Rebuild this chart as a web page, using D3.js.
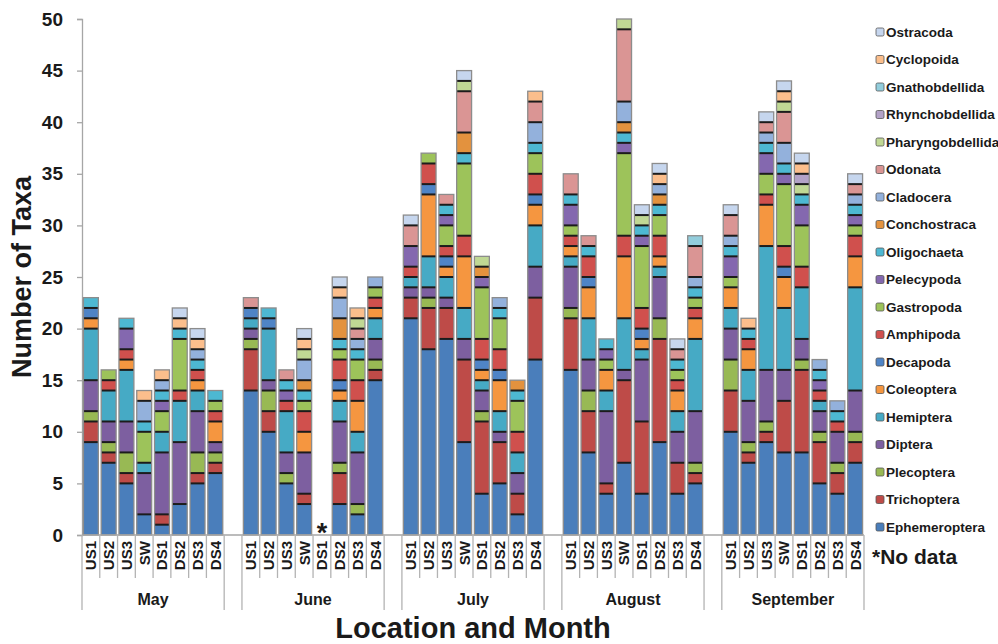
<!DOCTYPE html>
<html>
<head>
<meta charset="utf-8">
<script src="https://cdn.jsdelivr.net/npm/d3@7"></script>
<style>
  body { margin: 0; background: #fff; }
  text { font-family: Arial, "Liberation Sans", sans-serif; font-weight: bold; fill: #1a1a1a; }
</style>
</head>
<body>
<div id="chart"></div>
<script>
const months = ['May', 'June', 'July', 'August', 'September'];
const sites = ['US1', 'US2', 'US3', 'SW', 'DS1', 'DS2', 'DS3', 'DS4'];
const taxa = [
  'Ephemeroptera', 'Trichoptera', 'Plecoptera', 'Diptera', 'Hemiptera',
  'Coleoptera', 'Decapoda', 'Amphipoda', 'Gastropoda', 'Pelecypoda',
  'Oligochaeta', 'Conchostraca', 'Cladocera', 'Odonata', 'Pharyngobdellida',
  'Rhynchobdellida', 'Gnathobdellida', 'Cyclopoida', 'Ostracoda'
];
const colors = [
  '#4a7ebb', '#be4b48', '#98b954', '#7d5fa0', '#46aac5',
  '#f59640', '#4f84c6', '#d0504d', '#9dc35a', '#8468af',
  '#4db8d2', '#e3923e', '#93b1dc', '#da9594', '#c0d894',
  '#b3a2c7', '#92cddc', '#fbbe8c', '#c6d6ee'
];
const yTicks = [0, 5, 10, 15, 20, 25, 30, 35, 40, 45, 50];

// one value per bar: May US1..DS4, June, July, August, September (null = no data)
const ephemeroptera = [9, 7, 5, 2, 1, 3, 5, 6, 14, 10, 5, 3, null, 3, 2, 15,
  21, 18, 19, 9, 4, 5, 2, 17, 16, 8, 4, 7, 4, 9, 4, 5, 10, 7, 9, 8, 8, 5, 4, 7];
const trichoptera = [2, 1, 1, 0, 1, 0, 1, 1, 4, 2, 0, 1, null, 3, 0, 1,
  2, 4, 3, 8, 7, 4, 2, 6, 5, 4, 1, 8, 7, 10, 3, 1, 4, 1, 1, 5, 8, 4, 2, 2];
const plecoptera = [1, 1, 2, 0, 0, 0, 2, 1, 1, 2, 1, 0, null, 1, 1, 1,
  0, 1, 0, 0, 1, 0, 0, 0, 1, 2, 0, 0, 0, 2, 0, 1, 3, 1, 1, 0, 1, 1, 1, 1];
const diptera = [3, 2, 3, 4, 6, 6, 4, 1, 1, 1, 2, 4, null, 4, 5, 2,
  1, 1, 1, 2, 2, 1, 2, 3, 4, 3, 7, 1, 6, 4, 3, 5, 3, 4, 5, 3, 2, 2, 3, 4];
const hemiptera = [5, 3, 5, 1, 2, 4, 2, 0, 1, 5, 4, 0, null, 2, 2, 2,
  1, 3, 2, 3, 1, 2, 2, 4, 1, 4, 2, 5, 1, 1, 2, 7, 2, 3, 12, 6, 5, 1, 0, 10];
const coleoptera = [1, 0, 1, 0, 0, 0, 1, 2, 0, 0, 0, 2, null, 1, 3, 1,
  0, 6, 1, 5, 1, 3, 0, 2, 1, 3, 2, 6, 1, 1, 2, 2, 2, 2, 4, 3, 0, 0, 0, 3];
const decapoda = [1, 0, 0, 0, 0, 0, 0, 0, 1, 1, 0, 0, null, 1, 0, 0,
  0, 1, 1, 0, 1, 1, 0, 1, 0, 1, 0, 0, 1, 0, 0, 0, 0, 0, 0, 1, 0, 0, 0, 0];
const amphipoda = [0, 1, 1, 0, 0, 1, 1, 1, 0, 0, 1, 2, null, 2, 2, 1,
  1, 2, 1, 2, 2, 2, 2, 2, 1, 2, 0, 2, 2, 2, 1, 1, 0, 1, 1, 2, 2, 1, 1, 2];
const gastropoda = [0, 1, 0, 3, 2, 5, 0, 1, 0, 0, 0, 1, null, 1, 2, 1,
  0, 1, 2, 7, 5, 3, 3, 2, 1, 0, 1, 8, 6, 2, 1, 1, 1, 0, 2, 6, 4, 0, 0, 1];
const pelecypoda = [0, 0, 2, 0, 1, 0, 0, 0, 0, 0, 1, 0, null, 0, 0, 0,
  2, 0, 1, 0, 1, 0, 0, 0, 2, 0, 1, 1, 1, 0, 0, 0, 2, 0, 2, 1, 2, 1, 0, 1];
const oligochaeta = [1, 0, 1, 1, 1, 1, 1, 1, 0, 1, 1, 1, null, 1, 1, 0,
  0, 0, 1, 1, 0, 1, 1, 1, 1, 1, 1, 1, 1, 1, 1, 1, 1, 1, 1, 1, 1, 1, 1, 1];
const conchostraca = [0, 0, 0, 0, 0, 0, 0, 0, 0, 0, 0, 1, null, 2, 0, 0,
  0, 0, 0, 2, 1, 0, 1, 0, 0, 0, 0, 1, 0, 1, 0, 0, 0, 0, 0, 0, 0, 0, 0, 0];
const cladocera = [0, 0, 0, 2, 1, 0, 1, 0, 0, 0, 0, 2, null, 2, 1, 1,
  0, 0, 0, 0, 0, 1, 0, 2, 0, 0, 0, 2, 0, 1, 0, 1, 1, 0, 1, 2, 0, 1, 1, 1];
const odonata = [0, 0, 0, 0, 0, 0, 0, 0, 1, 0, 1, 0, null, 0, 1, 0,
  2, 0, 1, 4, 0, 0, 0, 2, 2, 1, 0, 7, 0, 0, 1, 3, 2, 0, 1, 3, 0, 0, 0, 1];
const pharyngobdellida = [0, 0, 0, 0, 0, 0, 0, 0, 0, 0, 0, 1, null, 0, 1, 0,
  0, 0, 0, 1, 1, 0, 0, 0, 0, 0, 0, 1, 1, 0, 0, 0, 0, 0, 0, 1, 1, 0, 0, 0];
const rhynchobdellida = [0, 0, 0, 0, 0, 0, 0, 0, 0, 0, 0, 0, null, 0, 0, 0,
  0, 0, 0, 0, 0, 0, 0, 0, 0, 0, 0, 0, 0, 0, 0, 0, 0, 0, 0, 0, 1, 0, 0, 0];
const gnathobdellida = [0, 0, 0, 0, 0, 0, 0, 0, 0, 0, 0, 0, null, 0, 0, 0,
  0, 0, 0, 0, 0, 0, 0, 0, 0, 0, 0, 0, 0, 0, 0, 1, 0, 0, 0, 0, 0, 0, 0, 0];
const cyclopoida = [0, 0, 0, 1, 1, 1, 1, 0, 0, 0, 0, 1, null, 1, 1, 0,
  0, 0, 0, 0, 0, 0, 0, 1, 0, 0, 0, 0, 0, 1, 0, 0, 0, 1, 0, 1, 1, 0, 0, 0];
const ostracoda = [0, 0, 0, 0, 0, 1, 1, 0, 0, 0, 0, 1, null, 1, 0, 0,
  1, 0, 0, 1, 0, 0, 0, 0, 0, 0, 0, 0, 1, 1, 1, 0, 1, 0, 1, 1, 1, 0, 0, 1];

const counts = [
  ephemeroptera, trichoptera, plecoptera, diptera, hemiptera,
  coleoptera, decapoda, amphipoda, gastropoda, pelecypoda,
  oligochaeta, conchostraca, cladocera, odonata, pharyngobdellida,
  rhynchobdellida, gnathobdellida, cyclopoida, ostracoda
];

const width = 998;
const height = 644;

const rows = [];
const slots = [];
months.forEach(function(m, mi) {
  sites.forEach(function(s, si) {
    const row = {key: m + ' ' + s, missing: false, total: 0};
    taxa.forEach(function(t, ti) {
      const v = counts[ti][mi * sites.length + si];
      if (v === null) row.missing = true;
      row[t] = v || 0;
      row.total += v || 0;
    });
    rows.push(row);
    slots.push(row.key);
  });
  if (mi < months.length - 1) slots.push('gap' + mi);
});

const svg = d3.select('#chart')
    .append('svg')
    .attr('width', width)
    .attr('height', height);

const x = d3.scaleBand()
    .domain(slots)
    .range([82, 864])
    .paddingInner(0.16)
    .paddingOuter(0.08);

const y = d3.scaleLinear()
    .domain([0, 50])
    .range([535, 19]);

// y axis
const yAxis = svg.append('g')
    .attr('transform', 'translate(82,0)')
    .call(d3.axisLeft(y).tickValues(yTicks).tickSize(5).tickPadding(14));
yAxis.select('.domain').attr('stroke', '#a6a6a6').attr('stroke-width', 1.3);
yAxis.selectAll('.tick line').attr('stroke', '#a6a6a6').attr('stroke-width', 1.3);
yAxis.selectAll('.tick text')
    .style('font-size', '19px')
    .style('font-weight', 'bold')
    .attr('fill', '#1a1a1a');

svg.append('text')
    .attr('transform', 'translate(31,' + y(25) + ') rotate(-90)')
    .attr('text-anchor', 'middle')
    .style('font-size', '27px')
    .text('Number of Taxa');

// stacked bars
const series = d3.stack().keys(taxa)(rows);

svg.selectAll('g.layer')
    .data(series)
    .enter()
    .append('g')
    .attr('class', 'layer')
    .attr('fill', function(d, i) {
      return colors[i];
    })
    .selectAll('rect')
    .data(function(d) {
      return d.filter(function(p) {
        return p[1] > p[0];
      });
    })
    .enter()
    .append('rect')
    .attr('x', function(d) {
      return x(d.data.key);
    })
    .attr('width', x.bandwidth())
    .attr('y', function(d) {
      return y(d[1]);
    })
    .attr('height', function(d) {
      return y(d[0]) - y(d[1]);
    });

// dark lines between segments
const joins = [];
series.forEach(function(layer) {
  layer.forEach(function(p) {
    if (p[1] > p[0] && p[0] > 0) joins.push({key: p.data.key, v: p[0]});
  });
});
svg.append('g')
    .selectAll('line')
    .data(joins)
    .enter()
    .append('line')
    .attr('x1', function(d) {
      return x(d.key);
    })
    .attr('x2', function(d) {
      return x(d.key) + x.bandwidth();
    })
    .attr('y1', function(d) {
      return y(d.v);
    })
    .attr('y2', function(d) {
      return y(d.v);
    })
    .attr('stroke', '#1c1c1c')
    .attr('stroke-width', 2);

svg.append('g')
    .selectAll('rect')
    .data(rows.filter(function(d) {
      return d.total > 0;
    }))
    .enter()
    .append('rect')
    .attr('x', function(d) {
      return x(d.key);
    })
    .attr('width', x.bandwidth())
    .attr('y', function(d) {
      return y(d.total);
    })
    .attr('height', function(d) {
      return y(0) - y(d.total);
    })
    .attr('fill', 'none')
    .attr('stroke', '#8c8c8c')
    .attr('stroke-width', 1.3);

// no data mark
svg.selectAll('text.nodata')
    .data(rows.filter(function(d) {
      return d.missing;
    }))
    .enter()
    .append('text')
    .attr('class', 'nodata')
    .attr('x', function(d) {
      return x(d.key) + x.bandwidth() / 2;
    })
    .attr('y', 542)
    .attr('text-anchor', 'middle')
    .style('font-size', '27px')
    .text('*');

// category axis
const step = x.step();
const x0 = x.range()[0];
const bounds = d3.range(slots.length + 1).map(function(i) {
  const prev = slots[i - 1];
  const next = slots[i];
  const long = !prev || !next || prev.indexOf('gap') === 0 || next.indexOf('gap') === 0;
  return {x: x0 + i * step, long: long};
});

svg.append('line')
    .attr('x1', x0)
    .attr('x2', x.range()[1])
    .attr('y1', y(0))
    .attr('y2', y(0))
    .attr('stroke', '#a6a6a6')
    .attr('stroke-width', 1.3);

svg.append('g')
    .selectAll('line')
    .data(bounds)
    .enter()
    .append('line')
    .attr('x1', function(d) {
      return d.x;
    })
    .attr('x2', function(d) {
      return d.x;
    })
    .attr('y1', y(0))
    .attr('y2', function(d) {
      return d.long ? 610 : 578;
    })
    .attr('stroke', '#b3b3b3')
    .attr('stroke-width', 1.3);

svg.append('g')
    .selectAll('text')
    .data(rows)
    .enter()
    .append('text')
    .attr('transform', function(d) {
      return 'translate(' + (x(d.key) + x.bandwidth() / 2) + ',541) rotate(-90)';
    })
    .attr('dy', '0.36em')
    .attr('text-anchor', 'end')
    .style('font-size', '15px')
    .text(function(d) {
      return d.key.split(' ')[1];
    });

svg.append('g')
    .selectAll('text')
    .data(months)
    .enter()
    .append('text')
    .attr('x', function(m) {
      return (x(m + ' US1') + x(m + ' DS4') + x.bandwidth()) / 2;
    })
    .attr('y', 605)
    .attr('text-anchor', 'middle')
    .style('font-size', '16px')
    .text(function(m) {
      return m;
    });

svg.append('text')
    .attr('x', (x0 + x.range()[1]) / 2)
    .attr('y', 638)
    .attr('text-anchor', 'middle')
    .style('font-size', '29px')
    .text('Location and Month');

// legend
const legend = svg.selectAll('.legend')
    .data(taxa.slice().reverse())
    .enter()
    .append('g')
    .attr('class', 'legend')
    .attr('transform', function(d, i) {
      return 'translate(876,' + (32 + i * 27.5) + ')';
    });

legend.append('rect')
    .attr('x', 0)
    .attr('y', -4)
    .attr('width', 8)
    .attr('height', 8)
    .attr('rx', 1.5)
    .attr('fill', function(d) {
      return colors[taxa.indexOf(d)];
    })
    .attr('stroke', '#555')
    .attr('stroke-width', 0.8);

legend.append('text')
    .attr('x', 10)
    .attr('dy', '0.36em')
    .style('font-size', '13.5px')
    .text(function(d) {
      return d;
    });

svg.append('text')
    .attr('x', 872)
    .attr('y', 564)
    .style('font-size', '21px')
    .text('*No data');
</script>
</body>
</html>
